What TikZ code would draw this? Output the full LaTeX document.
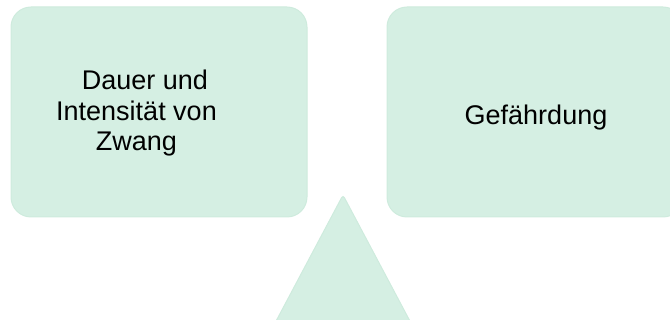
\documentclass[tikz,border=0pt]{standalone}
\usepackage{fontspec}
\setmainfont{Liberation Sans}
\definecolor{boxfill}{RGB}{213,239,227}
\definecolor{boxline}{RGB}{206,235,221}
\begin{document}
\begin{tikzpicture}[x=1pt,y=-1pt,
  shapebox/.style={fill=boxfill,draw=boxline,line width=1pt,rounded corners=20pt},
  label/.style={font=\fontsize{27}{30.5}\selectfont,align=center,inner sep=0pt}]
\useasboundingbox (0,0) rectangle (670,320);
\clip (0,0) rectangle (670,320);
\draw[shapebox] (11,7) rectangle (307,217);
\draw[shapebox] (387,7) rectangle (683,217);
\draw[fill=boxfill,draw=boxline,line width=1pt,rounded corners=3pt]
  (266,340) -- (343,195) -- (420,340) -- cycle;
\node[label] (left) at (136.5,113.5) {\hspace*{17pt}Dauer und\\Intensität von\\Zwang};
\node[label] (right) at (536,118) {Gefährdung};
\end{tikzpicture}
\end{document}
